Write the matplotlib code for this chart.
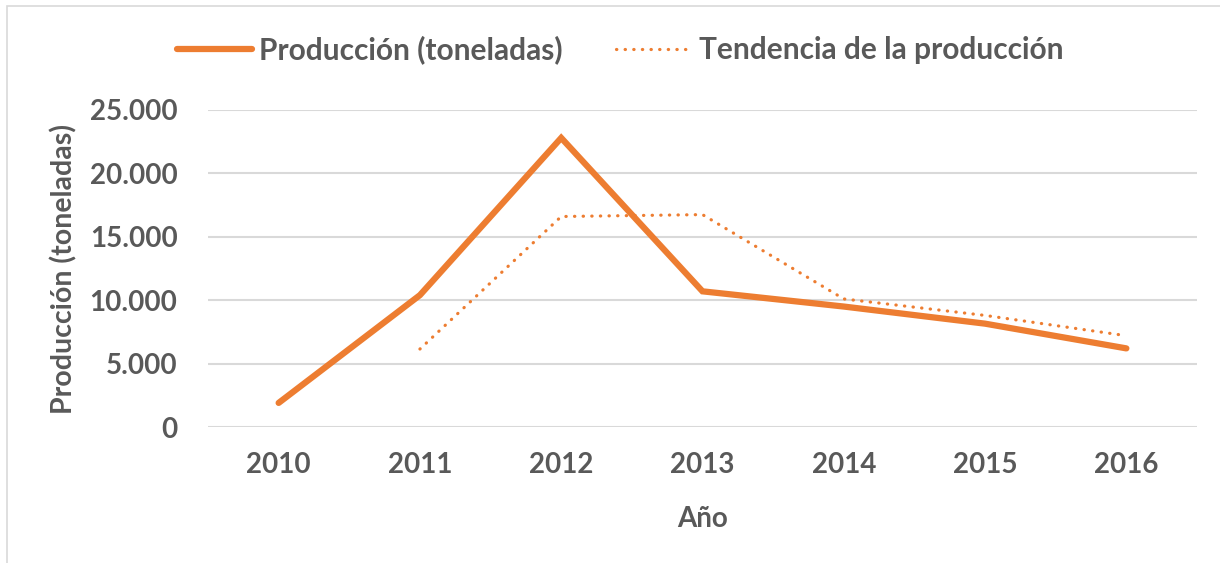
import matplotlib.pyplot as plt
from matplotlib.patches import Rectangle
from matplotlib.ticker import FuncFormatter

years = ["2010", "2011", "2012", "2013", "2014", "2015", "2016"]
produccion = [1900, 10400, 22800, 10700, 9500, 8150, 6200]
# moving-average trend (starts at 2011)
tendencia_years = ["2011", "2012", "2013", "2014", "2015", "2016"]
tendencia = [6150, 16600, 16750, 10100, 8800, 7200]

ORANGE = "#ED7D31"
GREY_TXT = "#595959"
GRID = "#D9D9D9"

plt.rcParams['font.family'] = ['Lato', 'DejaVu Sans']
plt.rcParams['font.weight'] = 'bold'
plt.rcParams['axes.labelweight'] = 'bold'

W, H = 1220, 563
fig = plt.figure(figsize=(W / 100, H / 100), dpi=100)
ax = fig.add_axes([208 / W, 1 - 427 / H, (1197 - 208) / W, (427 - 110) / H])

# chart border (Excel style, cut off at right / bottom)
fig.patches.append(Rectangle((7 / W, -0.1), 1.2, 1 - 6 / H + 0.1, transform=fig.transFigure,
                             fill=False, edgecolor=GRID, linewidth=1.2))

xpos = {y: i for i, y in enumerate(years)}
ax.plot([xpos[y] for y in years], produccion, color=ORANGE, linewidth=4.5,
        solid_capstyle='round', solid_joinstyle='miter', label="Producción (toneladas)")
ax.plot([xpos[y] for y in tendencia_years], tendencia, color=ORANGE, linewidth=2.3,
        linestyle=(0, (0.1, 2.6)), dash_capstyle='round', label="Tendencia de la producción")

ax.set_xlim(-0.5, len(years) - 0.5)
ax.set_ylim(0, 25000)
ax.set_yticks(range(0, 25001, 5000))
ax.yaxis.set_major_formatter(FuncFormatter(lambda v, p: f"{int(v):,}".replace(",", ".")))
ax.set_xticks(range(len(years)))
ax.set_xticklabels(years)

ax.grid(axis='y', color=GRID, linewidth=1.5)
ax.set_axisbelow(True)
for s in ax.spines.values():
    s.set_visible(False)
ax.tick_params(length=0, labelsize=20, labelcolor=GREY_TXT)
ax.tick_params(axis='y', pad=22)
ax.tick_params(axis='x', pad=18)

ax.set_xlabel("Año", fontsize=20, color=GREY_TXT, labelpad=20)
ax.set_ylabel("Producción (toneladas)", fontsize=20.5, color=GREY_TXT)
ax.yaxis.set_label_coords((77 - 208) / (1197 - 208), 0.5)

fig.legend(loc='center', bbox_to_anchor=(620 / W, 1 - 50 / H), ncol=2, frameon=False,
           fontsize=21.5, handlelength=2.5, handletextpad=0.25, columnspacing=1.8,
           labelcolor=GREY_TXT)

fig.savefig("out.png", dpi=100)
